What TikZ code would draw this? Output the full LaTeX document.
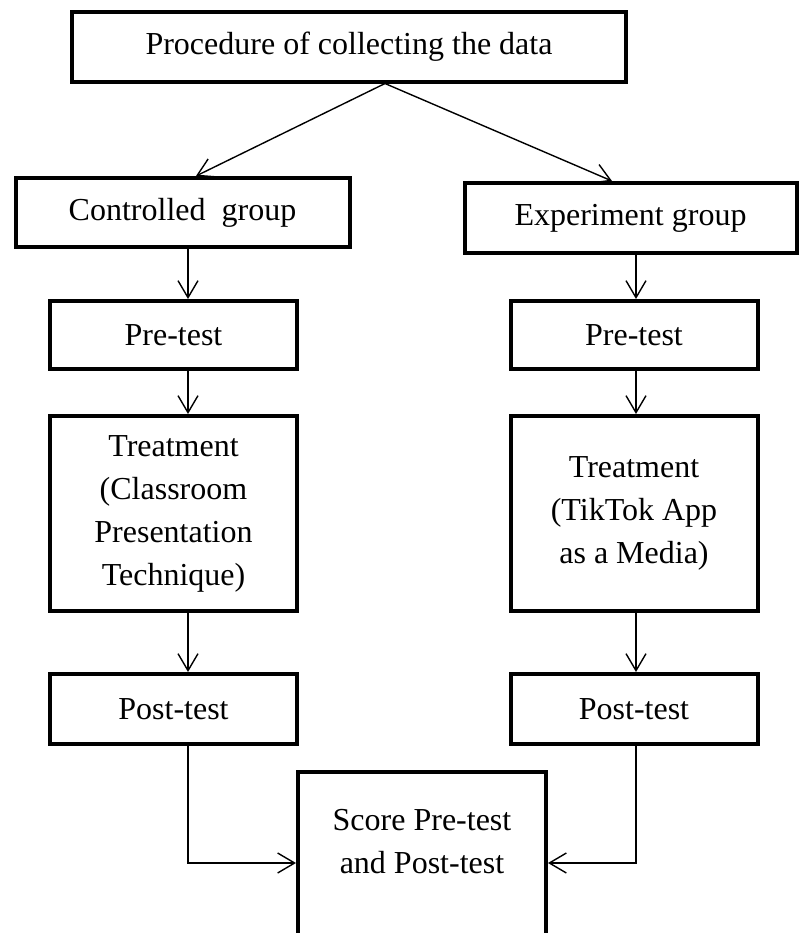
\documentclass[tikz,border=0pt]{standalone}
\usepackage{fontspec}
\setmainfont{Liberation Serif}
\usetikzlibrary{arrows.meta,calc}
\tikzset{
    %Define standard arrow tip
    >={Straight Barb[length=8.5pt,width=10pt]},
    %Define style for boxes
    box/.style={
           draw,
           line width=2pt,
           align=center,
           inner sep=0pt},
    % Define arrow style
    pil/.style={
           ->,
           line width=0.7pt}
}

\begin{document}
\begin{tikzpicture}[x=0.5pt,y=-0.5pt,font=\fontsize{16}{21.5}\selectfont]
    \useasboundingbox (0,0) rectangle (800,933);

    % top box
    \node[box, minimum width=277pt, minimum height=35pt] (proc) at (349,46.5) {Procedure of collecting the data};

    % groups
    \node[box, minimum width=167pt, minimum height=34.5pt] (ctrl) at (182.5,212.5) {Controlled\ \ group};
    \node[box, minimum width=166pt, minimum height=35pt] (exp) at (630.5,218) {Experiment group};

    % pre-tests
    \node[box, minimum width=123.5pt, minimum height=34pt] (pre1) at (173.5,335) {Pre-test};
    \node[box, minimum width=123.5pt, minimum height=34pt] (pre2) at (634,335) {Pre-test};

    % treatments
    \node[box, minimum width=123.5pt, minimum height=97.5pt] (treat1) at (173.5,513.5) {Treatment\\(Classroom\\Presentation\\Technique)};
    \node[box, minimum width=123.5pt, minimum height=97.5pt] (treat2) at (634,513.5) {Treatment\\(TikTok App\\as a Media)};

    % post-tests
    \node[box, minimum width=123.5pt, minimum height=35pt] (post1) at (173.5,709) {Post-test};
    \node[box, minimum width=123.5pt, minimum height=35pt] (post2) at (634,709) {Post-test};

    % score
    \node[box, minimum width=124pt, minimum height=91pt] (score) at (422,863) {Score Pre-test\\and Post-test\\~};

    % columns of the arrows
    \coordinate (split) at (385,0);
    \coordinate (lcol) at (188,0);
    \coordinate (rcol) at (636,0);

    % edges
    \path[pil] (proc.south -| split) edge ($(ctrl.north)+(13.5,0)$)
               (proc.south -| split) edge ($(exp.north)+(-18.5,0)$)
               (ctrl.south -| lcol)  edge (pre1.north -| lcol)
               (exp.south -| rcol)   edge (pre2.north -| rcol)
               (pre1.south -| lcol)  edge (treat1.north -| lcol)
               (pre2.south -| rcol)  edge (treat2.north -| rcol)
               (treat1.south -| lcol) edge (post1.north -| lcol)
               (treat2.south -| rcol) edge (post2.north -| rcol);
    \draw[pil] (post1.south -| lcol) |- (score.west);
    \draw[pil] (post2.south -| rcol) |- (score.east);
\end{tikzpicture}
\end{document}
